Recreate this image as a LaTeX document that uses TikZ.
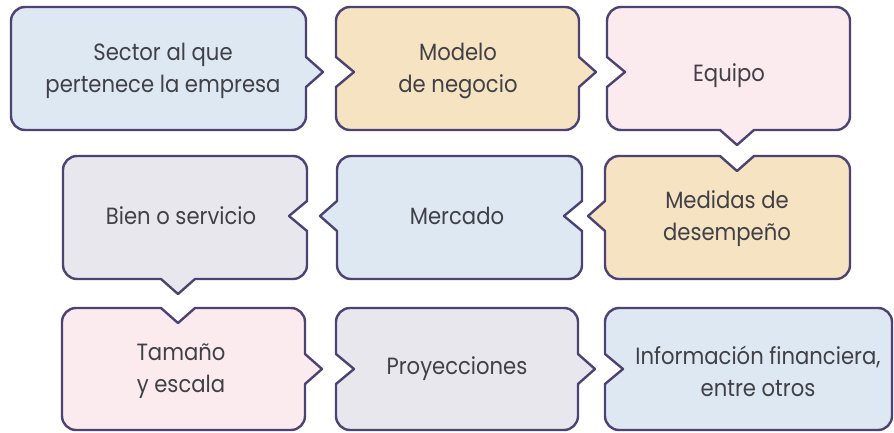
\documentclass[tikz,border=0pt]{standalone}
\usepackage{fontspec}
\setmainfont{Poppins}[FakeStretch=0.9]
\definecolor{cblue}{HTML}{DDE8F2}
\definecolor{ctan}{HTML}{F6E3C2}
\definecolor{cpink}{HTML}{FBEAEE}
\definecolor{cgrey}{HTML}{E8E7EE}
\definecolor{cline}{HTML}{4D4373}
\definecolor{ctext}{HTML}{404046}
% bubble outline: L, T, R, B (pixel coords, y down), top/right/bottom/left inserts
\newcommand{\bubblepath}[8]{(#1+14,-#2) #5 -- (#3-14,-#2) arc[start angle=90,end angle=0,radius=14] #6 -- (#3,-#4+14) arc[start angle=0,end angle=-90,radius=14] #7 -- (#1+14,-#4) arc[start angle=270,end angle=180,radius=14] #8 -- (#1,-#2-14) arc[start angle=180,end angle=90,radius=14] -- cycle}
\newcommand{\rout}[2]{-- (#1,-#2+15) -- (#1+17,-#2) -- (#1,-#2-15)}
\newcommand{\rin}[2]{-- (#1,-#2+15) -- (#1-18,-#2) -- (#1,-#2-15)}
\newcommand{\lout}[2]{-- (#1,-#2-15) -- (#1-17,-#2) -- (#1,-#2+15)}
\newcommand{\lin}[2]{-- (#1,-#2-15) -- (#1+18,-#2) -- (#1,-#2+15)}
\newcommand{\tin}[2]{-- (#1-17,-#2) -- (#1,-#2-15) -- (#1+17,-#2)}
\newcommand{\bout}[2]{-- (#1+17,-#2) -- (#1,-#2-15) -- (#1-17,-#2)}
\begin{document}
\begin{tikzpicture}[x=1pt,y=1pt,
  bub/.style={draw=cline,line width=2.4pt,line join=round},
  txt/.style={text=ctext,align=center,font=\fontsize{23.5}{32}\selectfont}]
\useasboundingbox (0,0) rectangle (894,-433);
% row 1
\path[bub,fill=cblue] \bubblepath{11}{7}{306}{130}{}{\rout{306}{72}}{}{};
\path[bub,fill=ctan] \bubblepath{336}{7}{579}{130}{}{\rout{579}{72}}{}{\lin{336}{72}};
\path[bub,fill=cpink] \bubblepath{607}{7}{850}{130}{}{}{\bout{737}{130}}{\lin{607}{72}};
% row 2
\path[bub,fill=ctan] \bubblepath{605}{156}{850}{279}{\tin{737}{156}}{}{}{\lout{605}{216}};
\path[bub,fill=cblue] \bubblepath{337}{156}{582}{279}{}{\rin{582}{216}}{}{\lout{337}{216}};
\path[bub,fill=cgrey] \bubblepath{63}{156}{307}{279}{}{\rin{307}{216}}{\bout{178}{279}}{};
% row 3
\path[bub,fill=cpink] \bubblepath{62}{308}{305}{430}{\tin{178}{308}}{\rout{305}{369}}{}{};
\path[bub,fill=cgrey] \bubblepath{336}{308}{578}{430}{}{\rout{578}{369}}{}{\lin{336}{369}};
\path[bub,fill=cblue] \bubblepath{605}{308}{892}{430}{}{}{}{\lin{605}{369}};
% texts
\node[txt] (t1) at (163,-71) {Sector al que\\pertenece la empresa};
\node[txt] (t2) at (458,-71) {Modelo\\de negocio};
\node[txt] (t3) at (729,-76) {Equipo};
\node[txt] (t4) at (727,-219) {Medidas de\\desempeño};
\node[txt] (t5) at (457,-216) {Mercado};
\node[txt] (t6) at (181,-216) {Bien o servicio};
\node[txt] (t7) at (181,-371) {Tamaño\\y escala};
\node[txt] (t8) at (457,-369) {Proyecciones};
\node[txt] (t9) at (758,-371) {Información financiera,\\entre otros};
\end{tikzpicture}
\end{document}
